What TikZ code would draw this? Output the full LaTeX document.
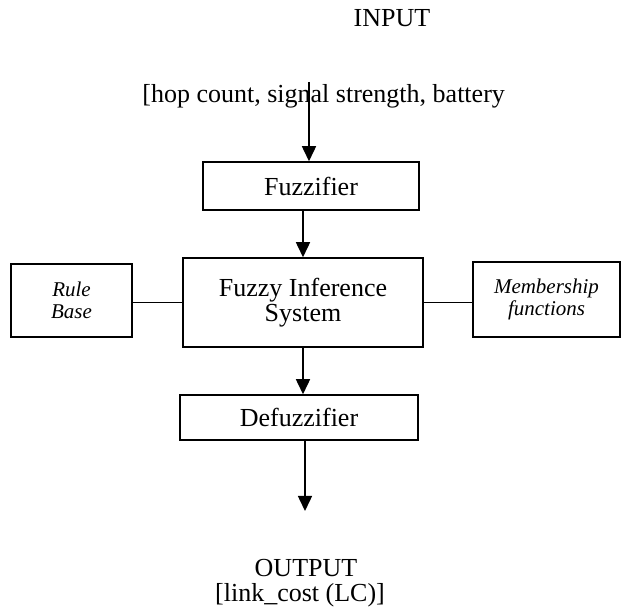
\documentclass[tikz,border=0pt]{standalone}
\usepackage{fontspec}
\setmainfont{Liberation Serif}
\usetikzlibrary{arrows.meta,positioning}

\begin{document}
\begin{tikzpicture}[x=0.5pt, y=-0.5pt, every node/.style={font=\fontsize{13}{12.5}\selectfont}]
\tikzset{box/.style={draw, line width=0.75pt, align=center, inner sep=0pt}}
\tikzset{sidebox/.style={box, font=\fontsize{10.5}{11}\selectfont\itshape}}
\tikzset{arrow/.style={-{Triangle[length=7.5pt, width=7pt]}, line width=0.75pt}}
\useasboundingbox (0,0) rectangle (622,614);
\node[anchor=base] (inlbl) at (392,27) {INPUT};
\node[anchor=base west, inner sep=0pt] (inlist) at (142,103) {[hop count, signal strength, battery};
\coordinate (inp) at (309,82);
\node[box, minimum width=108pt, minimum height=24pt] (fuzz) at (311,186) {Fuzzifier};
\node[box, minimum width=120pt, minimum height=44.5pt] (fis) at (303,302.5) {Fuzzy Inference\\System};
\node[sidebox, minimum width=60.5pt, minimum height=36.5pt] (rule) at (71.5,300.5) {Rule\\Base};
\node[sidebox, minimum width=73.5pt, minimum height=37.5pt] (memb) at (546.5,299.5) {Membership\\functions};
\node[box, minimum width=119pt, minimum height=22.5pt] (defuzz) at (299,417.5) {Defuzzifier};
\coordinate (outp) at (305,511);
\node[anchor=base, inner sep=0pt] (outlbl) at (306,577) {OUTPUT};
\node[anchor=base, inner sep=0pt] (outval) at (300,602) {[link\_cost (LC)]};
\draw[arrow] (inp) -- (inp |- fuzz.north);
\draw[arrow] (fis.north |- fuzz.south) -- (fis.north);
\draw[line width=0.75pt] (fis.west -| rule.east) -- (fis.west);
\draw[line width=0.75pt] (fis.east) -- (fis.east -| memb.west);
\draw[arrow] (fis.south) -- (fis.south |- defuzz.north);
\draw[arrow] (outp |- defuzz.south) -- (outp);
\end{tikzpicture}
\end{document}
